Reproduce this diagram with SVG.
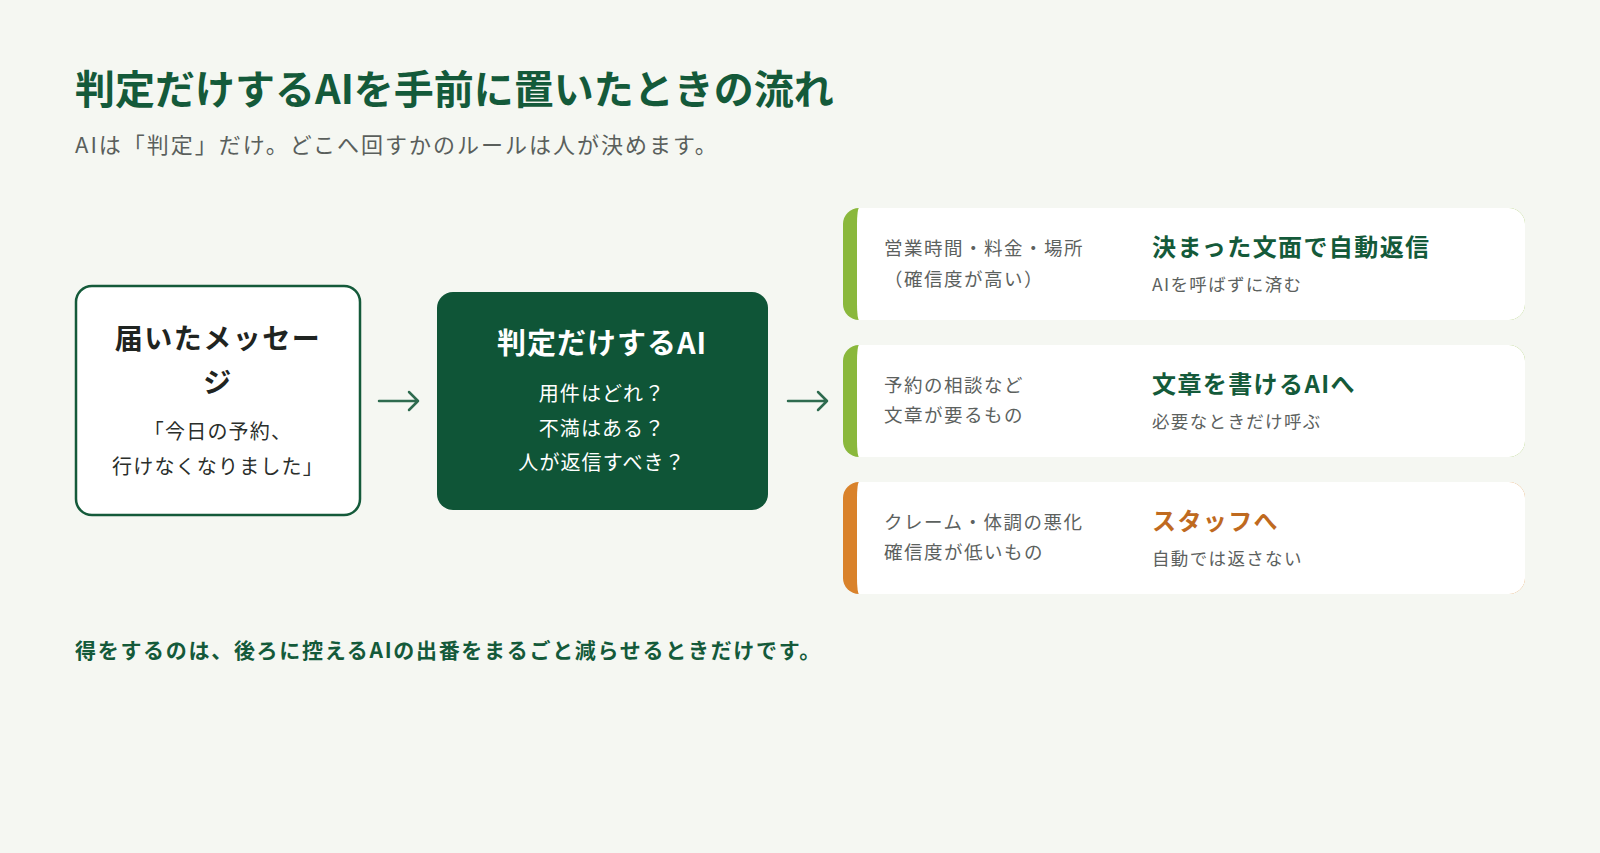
<svg xmlns="http://www.w3.org/2000/svg" width="1600" height="853" viewBox="0 0 1600 853">
<defs>
<style>
.jp{font-family:"Noto Sans CJK JP","Noto Sans",sans-serif}
.title{font-size:40px;font-weight:700;fill:#145a3a}
.sub{font-size:22px;fill:#5a5f5c;letter-spacing:2px}
.h{font-size:28px;font-weight:700;fill:#1f2421;letter-spacing:1.5px}
.b{font-size:20px;fill:#2a2e2b;letter-spacing:1.2px}
.wh{font-size:29px;font-weight:700;fill:#ffffff;letter-spacing:1px}
.wb{font-size:20px;fill:#ffffff;letter-spacing:1.1px}
.cl{font-size:18.5px;fill:#5c615e;letter-spacing:1.5px}
.ct{font-size:24px;font-weight:700;fill:#145a3a;letter-spacing:1.4px}
.co{font-size:24px;font-weight:700;fill:#bf6a1f;letter-spacing:1.4px}
.cs{font-size:17.5px;fill:#5c615e;letter-spacing:1.35px}
.foot{font-size:21px;font-weight:700;fill:#145a3a;letter-spacing:1.7px}
.card{fill:#ffffff}
.arr{fill:none;stroke:#2e6b4f;stroke-width:2.5;stroke-linecap:round;stroke-linejoin:round}
</style>
</defs>
<rect width="1600" height="853" fill="#f5f7f2"/>
<text class="jp title" x="75" y="104">判定だけするAIを手前に置いたときの流れ</text>
<text class="jp sub" x="75" y="153">AIは「判定」だけ。どこへ回すかのルールは人が決めます。</text>

<g id="node-message">
<rect x="76" y="286" width="284" height="229" rx="16" fill="#ffffff" stroke="#145a3a" stroke-width="2.5"/>
<text class="jp h" x="218" y="349" text-anchor="middle">届いたメッセー</text>
<text class="jp h" x="218" y="393" text-anchor="middle">ジ</text>
<text class="jp b" x="218" y="439" text-anchor="middle">「今日の予約、</text>
<text class="jp b" x="218" y="474" text-anchor="middle">行けなくなりました」</text>
</g>

<g id="node-judge">
<rect x="437" y="292" width="331" height="218" rx="16" fill="#0f5537"/>
<text class="jp wh" x="602" y="354" text-anchor="middle">判定だけするAI</text>
<text class="jp wb" x="602" y="401" text-anchor="middle">用件はどれ？</text>
<text class="jp wb" x="602" y="436" text-anchor="middle">不満はある？</text>
<text class="jp wb" x="602" y="470" text-anchor="middle">人が返信すべき？</text>
</g>

<g id="connectors">
<path class="arr" d="M379 401 H418 M409 392 L418 401 L409 410"/>
<path class="arr" d="M788 401 H827 M818 392 L827 401 L818 410"/>
</g>

<g id="card-auto">
<rect x="843" y="208" width="682" height="112" rx="16" fill="#8ab83c"/>
<path class="card" d="M859 208 H1509 A16 16 0 0 1 1525 224 V304 A16 16 0 0 1 1509 320 H859 A2 16 0 0 1 857 304 V224 A2 16 0 0 1 859 208 Z"/>
<text class="jp cl" x="884" y="255">営業時間・料金・場所</text>
<text class="jp cl" x="884" y="286">（確信度が高い）</text>
<text class="jp ct" x="1152" y="256">決まった文面で自動返信</text>
<text class="jp cs" x="1152" y="291">AIを呼ばずに済む</text>
</g>

<g id="card-writer">
<rect x="843" y="345" width="682" height="112" rx="16" fill="#8ab83c"/>
<path class="card" d="M859 345 H1509 A16 16 0 0 1 1525 361 V441 A16 16 0 0 1 1509 457 H859 A2 16 0 0 1 857 441 V361 A2 16 0 0 1 859 345 Z"/>
<text class="jp cl" x="884" y="392">予約の相談など</text>
<text class="jp cl" x="884" y="422">文章が要るもの</text>
<text class="jp ct" x="1152" y="393">文章を書けるAIへ</text>
<text class="jp cs" x="1152" y="428">必要なときだけ呼ぶ</text>
</g>

<g id="card-staff">
<rect x="843" y="482" width="682" height="112" rx="16" fill="#d9822b"/>
<path class="card" d="M859 482 H1509 A16 16 0 0 1 1525 498 V578 A16 16 0 0 1 1509 594 H859 A2 16 0 0 1 857 578 V498 A2 16 0 0 1 859 482 Z"/>
<text class="jp cl" x="884" y="529">クレーム・体調の悪化</text>
<text class="jp cl" x="884" y="559">確信度が低いもの</text>
<text class="jp co" x="1152" y="530">スタッフへ</text>
<text class="jp cs" x="1152" y="565">自動では返さない</text>
</g>

<text class="jp foot" x="75" y="658">得をするのは、後ろに控えるAIの出番をまるごと減らせるときだけです。</text>
</svg>
